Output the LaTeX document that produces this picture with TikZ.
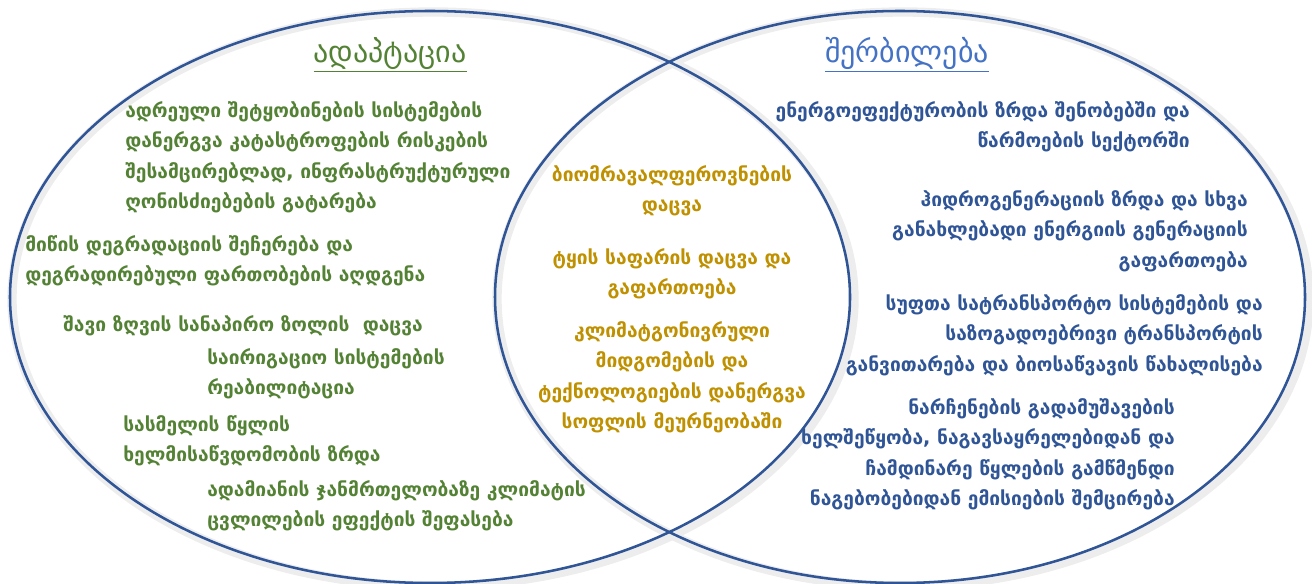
\documentclass[tikz,border=0pt]{standalone}
\usepackage{fontspec}
\setmainfont{DejaVu Sans}
\usepackage{tikz}
\usetikzlibrary{positioning}
\definecolor{adaptgreen}{HTML}{548235}
\definecolor{mitigblue}{HTML}{2F5597}
\definecolor{titleblue}{HTML}{4472C4}
\definecolor{sharedgold}{HTML}{BF9000}
\definecolor{ringblue}{HTML}{2F5597}
\tikzset{
    ring/.style={
        draw=ringblue,
        line width=1.9pt
    },
    ringshade/.style={
        draw=black!7,
        line width=7pt
    },
    heading/.style={
        font=\fontsize{22.5}{26}\selectfont,
        inner sep=0pt
    },
    adtext/.style={
        align=left,
        anchor=north west,
        inner sep=0pt,
        text=adaptgreen,
        font=\bfseries\fontsize{14.4}{22.9}\selectfont
    },
    mitext/.style={
        align=right,
        anchor=north east,
        inner sep=0pt,
        text=mitigblue,
        font=\bfseries\fontsize{14.4}{22.9}\selectfont
    },
    botext/.style={
        align=center,
        anchor=north,
        inner sep=0pt,
        text=sharedgold,
        font=\bfseries\fontsize{14.4}{22.9}\selectfont
    }
}

\begin{document}
\begin{tikzpicture}[x=0.75pt,y=-0.75pt]
    \useasboundingbox (0,0) rectangle (1312,584);
    % soft shade round the two rings
    \draw[ringshade] (433,299) ellipse [x radius=421, y radius=287];
    \draw[ringshade] (903,299) ellipse [x radius=406, y radius=287];
    \draw[ring] (430,297) ellipse [x radius=420, y radius=286];
    \draw[ring] (900,297) ellipse [x radius=405, y radius=286];

    % headings
    \node[heading, text=adaptgreen] (adapt) at (390,55) {\underline{ადაპტაცია}};
    \node[heading, text=titleblue] (mitig) at (907,55) {\underline{შერბილება}};

    % adaptation side
    \node[adtext] (warn) at (125,101) {ადრეული შეტყობინების სისტემების\\
        დანერგვა კატასტროფების რისკების\\
        შესამცირებლად, ინფრასტრუქტურული\\
        ღონისძიებების გატარება};
    \node[adtext] (soil) at (25,235) {მიწის დეგრადაციის შეჩერება და\\
        დეგრადირებული ფართობების აღდგენა};
    \node[adtext] (coast) at (63,315) {შავი ზღვის სანაპირო ზოლის\ \ დაცვა};
    \node[adtext] (irrig) at (207,348) {საირიგაციო სისტემების\\
        რეაბილიტაცია};
    \node[adtext] (water) at (123,415) {სასმელის წყლის\\
        ხელმისაწვდომობის ზრდა};
    \node[adtext] (health) at (207,480) {ადამიანის ჯანმრთელობაზე კლიმატის\\
        ცვლილების ეფექტის შეფასება};

    % shared middle
    \node[botext] (biodiv) at (672,165) {ბიომრავალფეროვნების\\
        დაცვა};
    \node[botext] (forest) at (672,248) {ტყის საფარის დაცვა და\\
        გაფართოება};
    \node[botext] (agri) at (672,321) {კლიმატგონივრული\\
        მიდგომების და\\
        ტექნოლოგიების დანერგვა\\
        სოფლის მეურნეობაში};

    % mitigation side
    \node[mitext] (effic) at (1190,101) {ენერგოეფექტურობის ზრდა შენობებში და\\
        წარმოების სექტორში};
    \node[mitext] (hydro) at (1248,190) {ჰიდროგენერაციის ზრდა და სხვა\\
        განახლებადი ენერგიის გენერაციის\\
        გაფართოება};
    \node[mitext] (trans) at (1263,294) {სუფთა სატრანსპორტო სისტემების და\\
        საზოგადოებრივი ტრანსპორტის\\
        განვითარება და ბიოსაწვავის წახალისება};
    \node[mitext] (waste) at (1175,398) {ნარჩენების გადამუშავების\\
        ხელშეწყობა, ნაგავსაყრელებიდან და\\
        ჩამდინარე წყლების გამწმენდი\\
        ნაგებობებიდან ემისიების შემცირება};
\end{tikzpicture}
\end{document}
